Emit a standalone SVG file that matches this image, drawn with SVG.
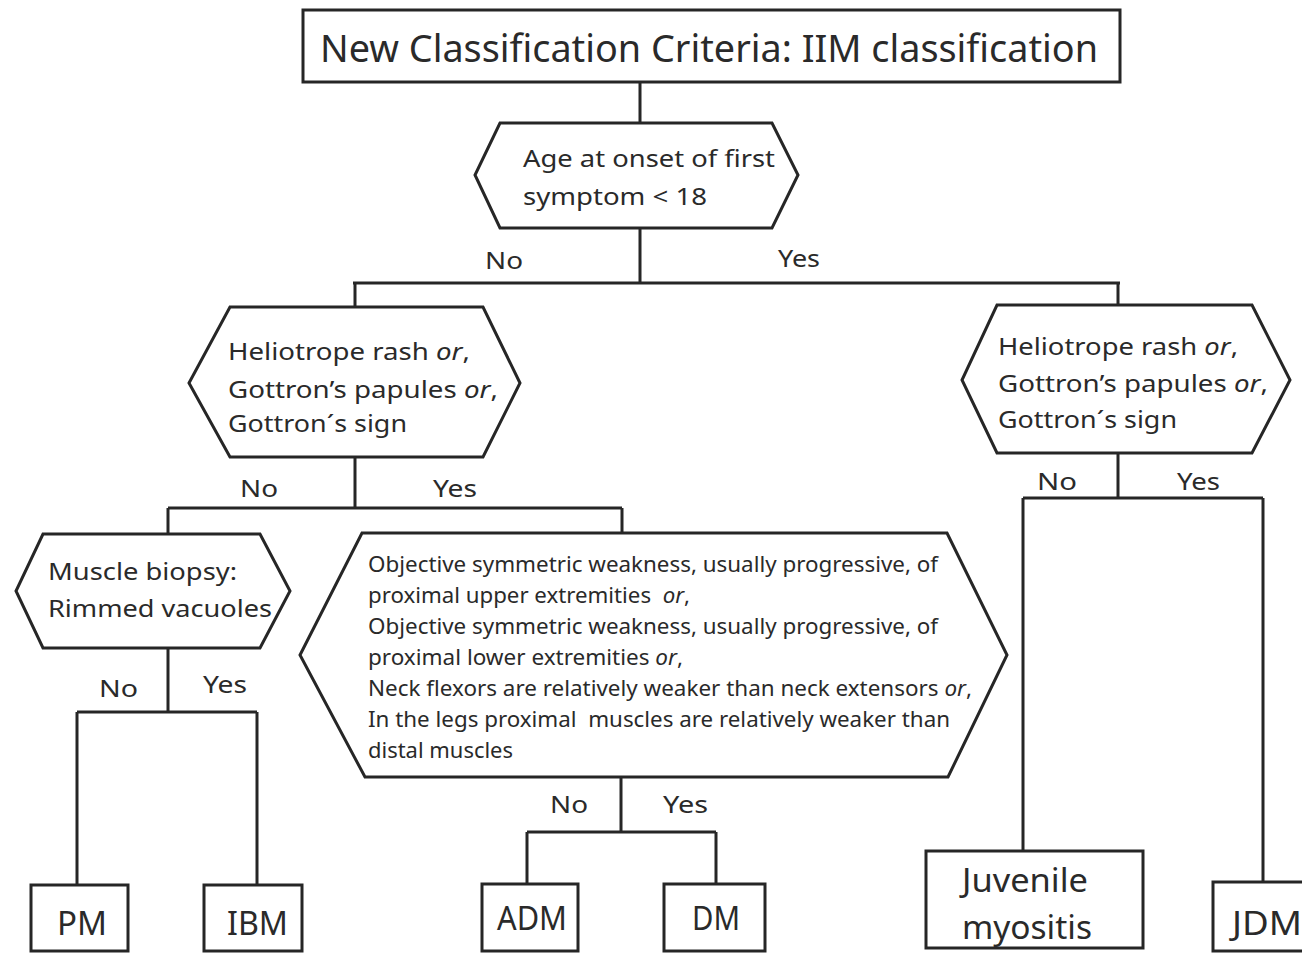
<svg xmlns="http://www.w3.org/2000/svg" width="1302" height="953" viewBox="0 0 1302 953">
<style>
.shape{fill:#fff;stroke:#262626;stroke-width:3;stroke-linejoin:miter}
.conn{fill:none;stroke:#262626;stroke-width:3}
text{font-family:"Noto Sans","Open Sans","DejaVu Sans",sans-serif;fill:#2a2a2a}
.t38{font-size:38px}
.t24{font-size:24px}
.t21{font-size:21px}
.t32{font-size:32px}
.it{font-style:italic}
.pre{white-space:pre}
</style>
<rect width="1302" height="953" fill="#fff"/>
<g id="connectors">
<path class="conn" d="M640,82V123M640,228V283M353,283H1120M355,283V307M1118,283V305"/>
<path class="conn" d="M355,457V508M168,508H622M168,508V534M622,508V533"/>
<path class="conn" d="M168,648V712M77,712H257M77,712V885M257,712V885"/>
<path class="conn" d="M621,777V832M527,832H716M527,832V884M716,832V884"/>
<path class="conn" d="M1118,453V498M1023,498H1263M1023,498V851M1263,498V882"/>
</g>
<g id="title">
<rect class="shape" x="303" y="10" width="817" height="72"/>
<text class="t38" x="320" y="62" textLength="778" lengthAdjust="spacingAndGlyphs">New Classification Criteria: IIM classification</text>
</g>
<g id="age">
<polygon class="shape" points="500,123 772,123 798,175 772,228 500,228 475,175"/>
<text class="t24" x="523" y="167" textLength="252" lengthAdjust="spacingAndGlyphs">Age at onset of first</text>
<text class="t24" x="523" y="205" textLength="184" lengthAdjust="spacingAndGlyphs">symptom &lt; 18</text>
</g>
<g id="labels-age">
<text class="t24" x="485" y="269" textLength="38" lengthAdjust="spacingAndGlyphs">No</text>
<text class="t24" x="778" y="267" textLength="42" lengthAdjust="spacingAndGlyphs">Yes</text>
</g>
<g id="skin-adult">
<polygon class="shape" points="230,307 483,307 520,383 483,457 230,457 189,383"/>
<text class="t24" x="228" y="360" textLength="242" lengthAdjust="spacingAndGlyphs">Heliotrope rash <tspan class="it">or</tspan>,</text>
<text class="t24" x="228" y="398" textLength="270" lengthAdjust="spacingAndGlyphs">Gottron’s papules <tspan class="it">or</tspan>,</text>
<text class="t24" x="228" y="432" textLength="179" lengthAdjust="spacingAndGlyphs">Gottron´s sign</text>
<text class="t24" x="240" y="497" textLength="38" lengthAdjust="spacingAndGlyphs">No</text>
<text class="t24" x="433" y="497" textLength="44" lengthAdjust="spacingAndGlyphs">Yes</text>
</g>
<g id="skin-juvenile">
<polygon class="shape" points="997,305 1252,305 1290,380 1252,453 997,453 962,380"/>
<text class="t24" x="998" y="355" textLength="240" lengthAdjust="spacingAndGlyphs">Heliotrope rash <tspan class="it">or</tspan>,</text>
<text class="t24" x="998" y="392" textLength="270" lengthAdjust="spacingAndGlyphs">Gottron’s papules <tspan class="it">or</tspan>,</text>
<text class="t24" x="998" y="428" textLength="179" lengthAdjust="spacingAndGlyphs">Gottron´s sign</text>
<text class="t24" x="1037" y="490" textLength="40" lengthAdjust="spacingAndGlyphs">No</text>
<text class="t24" x="1177" y="490" textLength="43" lengthAdjust="spacingAndGlyphs">Yes</text>
</g>
<g id="biopsy">
<polygon class="shape" points="43,534 260,534 290,591 260,648 43,648 16,591"/>
<text class="t24" x="48" y="580" textLength="189" lengthAdjust="spacingAndGlyphs">Muscle biopsy:</text>
<text class="t24" x="48" y="617" textLength="224" lengthAdjust="spacingAndGlyphs">Rimmed vacuoles</text>
<text class="t24" x="99" y="697" textLength="39" lengthAdjust="spacingAndGlyphs">No</text>
<text class="t24" x="203" y="693" textLength="44" lengthAdjust="spacingAndGlyphs">Yes</text>
</g>
<g id="weakness">
<polygon class="shape" points="362,533 947,533 1007,655 948,777 365,777 300,655"/>
<text class="t21" x="368" y="572" textLength="570" lengthAdjust="spacingAndGlyphs">Objective symmetric weakness, usually progressive, of</text>
<text class="t21 pre" x="368" y="603" textLength="322" lengthAdjust="spacingAndGlyphs">proximal upper extremities  <tspan class="it">or</tspan>,</text>
<text class="t21" x="368" y="634" textLength="570" lengthAdjust="spacingAndGlyphs">Objective symmetric weakness, usually progressive, of</text>
<text class="t21" x="368" y="665" textLength="315" lengthAdjust="spacingAndGlyphs">proximal lower extremities <tspan class="it">or</tspan>,</text>
<text class="t21" x="368" y="696" textLength="604" lengthAdjust="spacingAndGlyphs">Neck flexors are relatively weaker than neck extensors <tspan class="it">or</tspan>,</text>
<text class="t21 pre" x="368" y="727" textLength="582" lengthAdjust="spacingAndGlyphs">In the legs proximal  muscles are relatively weaker than</text>
<text class="t21" x="368" y="758" textLength="145" lengthAdjust="spacingAndGlyphs">distal muscles</text>
<text class="t24" x="550" y="813" textLength="38" lengthAdjust="spacingAndGlyphs">No</text>
<text class="t24" x="663" y="813" textLength="45" lengthAdjust="spacingAndGlyphs">Yes</text>
</g>
<g id="pm">
<rect class="shape" x="31" y="885" width="97" height="66"/>
<text class="t32" x="57" y="935" textLength="50" lengthAdjust="spacingAndGlyphs">PM</text>
</g>
<g id="ibm">
<rect class="shape" x="204" y="885" width="98" height="66"/>
<text class="t32" x="227" y="935" textLength="61" lengthAdjust="spacingAndGlyphs">IBM</text>
</g>
<g id="adm">
<rect class="shape" x="482" y="884" width="96" height="67"/>
<text class="t32" x="497" y="930" textLength="70" lengthAdjust="spacingAndGlyphs">ADM</text>
</g>
<g id="dm">
<rect class="shape" x="664" y="884" width="101" height="67"/>
<text class="t32" x="692" y="930" textLength="48" lengthAdjust="spacingAndGlyphs">DM</text>
</g>
<g id="juvenile">
<rect class="shape" x="926" y="851" width="217" height="97"/>
<text class="t32" x="962" y="892" textLength="126" lengthAdjust="spacingAndGlyphs">Juvenile</text>
<text class="t32" x="962" y="939" textLength="130" lengthAdjust="spacingAndGlyphs">myositis</text>
</g>
<g id="jdm">
<rect class="shape" x="1213" y="882" width="100" height="69"/>
<text class="t32" x="1232" y="935" textLength="70" lengthAdjust="spacingAndGlyphs">JDM</text>
</g>
</svg>
